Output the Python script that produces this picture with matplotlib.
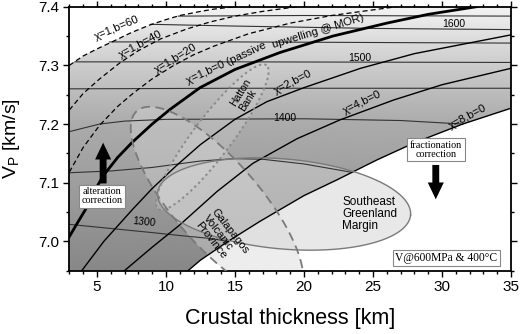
import numpy as np
import matplotlib
matplotlib.use('Agg')
import matplotlib.pyplot as plt
from matplotlib.patches import Polygon, FancyArrowPatch
from matplotlib.ticker import MultipleLocator

plt.rcParams['font.family'] = ['Liberation Sans', 'DejaVu Sans']
plt.rcParams['mathtext.fontset'] = 'custom'
plt.rcParams['mathtext.rm'] = 'Liberation Sans'
plt.rcParams['mathtext.it'] = 'Liberation Sans:italic'

# ---------------- data ----------------
xlim = (3, 35)
ylim = (6.95, 7.4)

# chi=1 curves with active upwelling b (dashed)
b60_x = [3.0, 4.0, 5.0, 6.0, 7.5, 8.85, 10.0, 11.0, 12.5, 13.5, 15.0]
b60_y = [7.300, 7.316, 7.328, 7.339, 7.356, 7.369, 7.378, 7.385, 7.392, 7.396, 7.400]
b40_x = [3.0, 4.0, 5.2, 6.7, 8.0, 9.6, 11.5, 13.2, 15.0, 17.0, 19.5]
b40_y = [7.224, 7.252, 7.277, 7.305, 7.325, 7.345, 7.362, 7.374, 7.384, 7.392, 7.400]
b20_x = [3.0, 4.0, 5.2, 6.5, 7.6, 9.0, 10.5, 12.0, 13.5, 16.0, 19.0, 22.0, 24.5, 26.7]
b20_y = [7.118, 7.160, 7.198, 7.230, 7.252, 7.277, 7.299, 7.318, 7.333, 7.354, 7.372, 7.385, 7.393, 7.400]
# passive upwelling curves
chi1_x = [3.0, 3.6, 4.14, 4.8, 5.46, 6.5, 7.52, 9.0, 10.3, 12.47, 15.0, 18.27, 22.1, 26.0, 29.0, 32.5]
chi1_y = [7.008, 7.032, 7.053, 7.085, 7.112, 7.143, 7.168, 7.200, 7.225, 7.262, 7.293, 7.322, 7.350, 7.372, 7.387, 7.400]
chi2_x = [3.9, 5.5, 7.6, 9.0, 10.8, 12.5, 15.0, 17.3, 20.0, 24.1, 28.0, 35.0]
chi2_y = [6.950, 7.000, 7.055, 7.090, 7.130, 7.165, 7.208, 7.238, 7.262, 7.295, 7.320, 7.352]
chi4_x = [6.94, 9.0, 11.0, 13.7, 16.3, 19.5, 22.6, 26.5, 30.0, 35.0]
chi4_y = [6.949, 6.990, 7.028, 7.085, 7.133, 7.175, 7.207, 7.241, 7.267, 7.295]
chi8_x = [11.6, 12.5, 14.5, 16.8, 20.0, 22.4, 25.3, 28.0, 31.5, 35.0]
chi8_y = [6.950, 6.968, 7.000, 7.034, 7.078, 7.105, 7.139, 7.168, 7.200, 7.227]

# potential temperature contours
t1650_x = [10.9, 20.0, 35.0]
t1650_y = [7.384, 7.385, 7.384]
t1600_x = [8.9, 15.0, 25.0, 35.0]
t1600_y = [7.370, 7.367, 7.363, 7.361]
t1550_x = [5.9, 15.0, 35.0]
t1550_y = [7.340, 7.340, 7.338]
t1500_x = [3.4, 15.0, 35.0]
t1500_y = [7.306, 7.306, 7.305]
t1450_x = [3.0, 15.0, 35.0]
t1450_y = [7.260, 7.261, 7.261]
t1400_x = [3.0, 4.0, 5.2, 7.0, 10.0, 20.0, 27.0, 31.5]
t1400_y = [7.187, 7.193, 7.200, 7.205, 7.208, 7.209, 7.206, 7.200]
t1350_x = [3.0, 6.0, 9.0, 12.5, 15.0, 17.0, 20.0, 23.4]
t1350_y = [7.117, 7.120, 7.126, 7.137, 7.141, 7.140, 7.132, 7.118]
t1300_x = [3.0, 6.0, 9.0, 11.0, 13.2, 14.5]
t1300_y = [7.029, 7.022, 7.015, 7.010, 7.005, 7.000]

contour_labels = ['1600', '1500', '1400', '1300']
contour_label_x = [30.83, 24.07, 18.64, 8.38]
contour_label_y = [7.371, 7.3134, 7.2103, 7.0322]
contour_label_rot = [0, 0, 0, -5.5]

curve_labels = ['χ=1,b=60', 'χ=1,b=40', 'χ=1,b=20',
                'χ=1,b=0 (passive', 'upwelling @ MOR)',
                'χ=2,b=0', 'χ=4,b=0', 'χ=8,b=0']
curve_label_x = [6.46, 8.17, 10.71, 14.4, 21.0, 19.2, 24.2, 31.9]
curve_label_y = [7.3636, 7.3364, 7.312, 7.3034, 7.3587, 7.272, 7.236, 7.212]
curve_label_rot = [23, 28, 31, 25, 17, 27, 26, 28]

# shading stops (Vp -> gray level)
shade_vp = [6.95, 7.0, 7.05, 7.1, 7.15, 7.2, 7.25, 7.3, 7.35, 7.4]
shade_gray = [0.53, 0.56, 0.59, 0.62, 0.645, 0.67, 0.73, 0.80, 0.87, 0.95]

# regions (ellipses): centre x, centre y, semi-major, semi-minor (km units), angle
regions = ['Southeast\nGreenland\nMargin', 'Galapagos\nVolcanic\nProvince', 'Hatton\nBank']
reg_cx = [18.56, 13.70, 13.36]
reg_cy = [7.0637, 7.0654, 7.1776]
reg_a = [9.2, 8.84, 6.52]
reg_b = [3.26, 3.1, 1.4]
reg_ang = [-5, -49, 53]
reg_label_x = [22.78, 14.08, 15.75]
reg_label_y = [7.046, 7.006, 7.2495]
reg_label_rot = [0, -52, 58]

# ---------------- figure ----------------
fig = plt.figure(figsize=(5.2, 3.34), dpi=100)
ax = fig.add_axes([0.1333, 0.1895, 0.8494, 0.7904])
ax.set_xlim(*xlim)
ax.set_ylim(*ylim)

# gradient shading clipped to model domain
yy = np.linspace(ylim[0], ylim[1], 500)
g = np.interp(yy, shade_vp, shade_gray)
img = np.tile(g[:, None], (1, 2))
im = ax.imshow(img, extent=[xlim[0], xlim[1], ylim[0], ylim[1]], origin='lower',
               cmap='gray', vmin=0, vmax=1, aspect='auto', interpolation='bilinear', zorder=0)
verts = list(zip(b60_x, b60_y)) + [(xlim[1], ylim[1])] + \
    list(zip(chi8_x[::-1], chi8_y[::-1])) + [(xlim[0], ylim[0])]
clip = Polygon(verts, closed=True, transform=ax.transData, fc='none', ec='none')
ax.add_patch(clip)
im.set_clip_path(clip)
ax.set_xlim(*xlim)
ax.set_ylim(*ylim)

# ellipses
fig_w, fig_h = fig.get_size_inches() * fig.dpi
pos = ax.get_position()
sx = pos.width * fig_w / (xlim[1] - xlim[0])
sy = pos.height * fig_h / (ylim[1] - ylim[0])
t = np.linspace(0, 2 * np.pi, 300)
styles = [dict(fc='#d2d2d2', alpha_f=0.5, ec='#7a7a7a', ls='-', lw=1.0),
          dict(fc='#d6d6d6', alpha_f=0.42, ec='#7a7a7a', ls=(0, (5, 3)), lw=1.3),
          dict(fc='#dddddd', alpha_f=0.25, ec='#8a8a8a', ls=(0, (1.2, 1.6)), lw=1.4)]
for i in range(3):
    th = np.deg2rad(reg_ang[i])
    ap, bp = reg_a[i] * sx, reg_b[i] * sx
    dx = ap * np.cos(t) * np.cos(th) - bp * np.sin(t) * np.sin(th)
    dy = ap * np.cos(t) * np.sin(th) + bp * np.sin(t) * np.cos(th)
    ex = reg_cx[i] + dx / sx
    ey = reg_cy[i] + dy / sy
    st = styles[i]
    ax.fill(ex, ey, color=st['fc'], alpha=st['alpha_f'], lw=0, zorder=1)
    ax.plot(ex, ey, color=st['ec'], ls=st['ls'], lw=st['lw'], zorder=3)

# temperature contours
for cx_, cy_ in [(t1650_x, t1650_y), (t1600_x, t1600_y), (t1550_x, t1550_y),
                 (t1500_x, t1500_y), (t1450_x, t1450_y), (t1400_x, t1400_y),
                 (t1350_x, t1350_y), (t1300_x, t1300_y)]:
    ax.plot(cx_, cy_, color='#333333', lw=0.8, zorder=2)

# chi curves
for cx_, cy_ in [(b60_x, b60_y), (b40_x, b40_y), (b20_x, b20_y)]:
    ax.plot(cx_, cy_, color='black', lw=0.9, ls=(0, (4, 2.5)), zorder=2.5)
ax.plot(chi1_x, chi1_y, color='black', lw=2.0, zorder=2.5)
for cx_, cy_ in [(chi2_x, chi2_y), (chi4_x, chi4_y), (chi8_x, chi8_y)]:
    ax.plot(cx_, cy_, color='black', lw=1.0, zorder=2.5)

# labels
for s, x, y, r in zip(contour_labels, contour_label_x, contour_label_y, contour_label_rot):
    ax.text(x, y, s, fontsize=7.5, ha='center', va='center', rotation=r,
            rotation_mode='anchor', zorder=4)
for s, x, y, r in zip(curve_labels, curve_label_x, curve_label_y, curve_label_rot):
    ax.text(x, y, s, fontsize=8.2, ha='center', va='center', rotation=r,
            rotation_mode='anchor', zorder=4)
ax.text(reg_label_x[0], reg_label_y[0], regions[0], fontsize=8.5, ha='left', va='center',
        linespacing=1.0, zorder=4)
ax.text(reg_label_x[1], reg_label_y[1], regions[1], fontsize=8.0, ha='center', va='center',
        multialignment='left', rotation=reg_label_rot[1], rotation_mode='anchor',
        linespacing=1.0, zorder=4)
ax.text(reg_label_x[2], reg_label_y[2], regions[2], fontsize=7.5, ha='center', va='center',
        multialignment='left', rotation=reg_label_rot[2], rotation_mode='anchor',
        linespacing=1.0, zorder=4)

# correction arrows and boxes
arrow_x = [5.45, 29.55]
arrow_from = [7.094, 7.135]
arrow_to = [7.173, 7.067]
for x, y0, y1 in zip(arrow_x, arrow_from, arrow_to):
    a = FancyArrowPatch((x, y0), (x, y1), arrowstyle='simple,head_length=1.1,head_width=1.05,tail_width=0.45',
                        mutation_scale=11, color='black', lw=0, zorder=5)
    ax.add_patch(a)
boxkw = dict(boxstyle='square,pad=0.25', fc='white', ec='#888888', lw=0.8)
ax.text(5.38, 7.077, 'alteration\ncorrection', family='Liberation Serif', fontsize=7.3,
        ha='center', va='center', linespacing=1.0, bbox=boxkw, zorder=6)
ax.text(29.57, 7.1566, 'fractionation\ncorrection', family='Liberation Serif', fontsize=7.3,
        ha='center', va='center', linespacing=1.0, bbox=boxkw, zorder=6)
ax.text(30.32, 6.9715, 'V@600MPa & 400°C', family='Liberation Serif', fontsize=8.3,
        ha='center', va='center', bbox=dict(boxstyle='square,pad=0.2', fc='white', ec='#888888', lw=0.8),
        zorder=6)

# axes styling
for sp in ax.spines.values():
    sp.set_linewidth(1.3)
ax.xaxis.set_major_locator(MultipleLocator(5))
ax.xaxis.set_minor_locator(MultipleLocator(1))
ax.yaxis.set_major_locator(MultipleLocator(0.1))
ax.yaxis.set_minor_locator(MultipleLocator(0.05))
ax.tick_params(which='both', direction='out', top=True, right=True, width=1.0)
ax.tick_params(which='major', length=4, labelsize=11, pad=3)
ax.tick_params(which='minor', length=2.2)
ax.set_xticks([5, 10, 15, 20, 25, 30, 35])
ax.set_yticks([7.0, 7.1, 7.2, 7.3, 7.4])
ax.set_yticklabels(['7.0', '7.1', '7.2', '7.3', '7.4'])
ax.set_xlabel('Crustal thickness [km]', fontsize=15.5)
ax.set_ylabel('V$_\\mathrm{P}$ [km/s]', fontsize=14)
ax.xaxis.set_label_coords(0.5, -0.142)
ax.yaxis.set_label_coords(-0.106, 0.5)

fig.savefig('out.png', dpi=100)
